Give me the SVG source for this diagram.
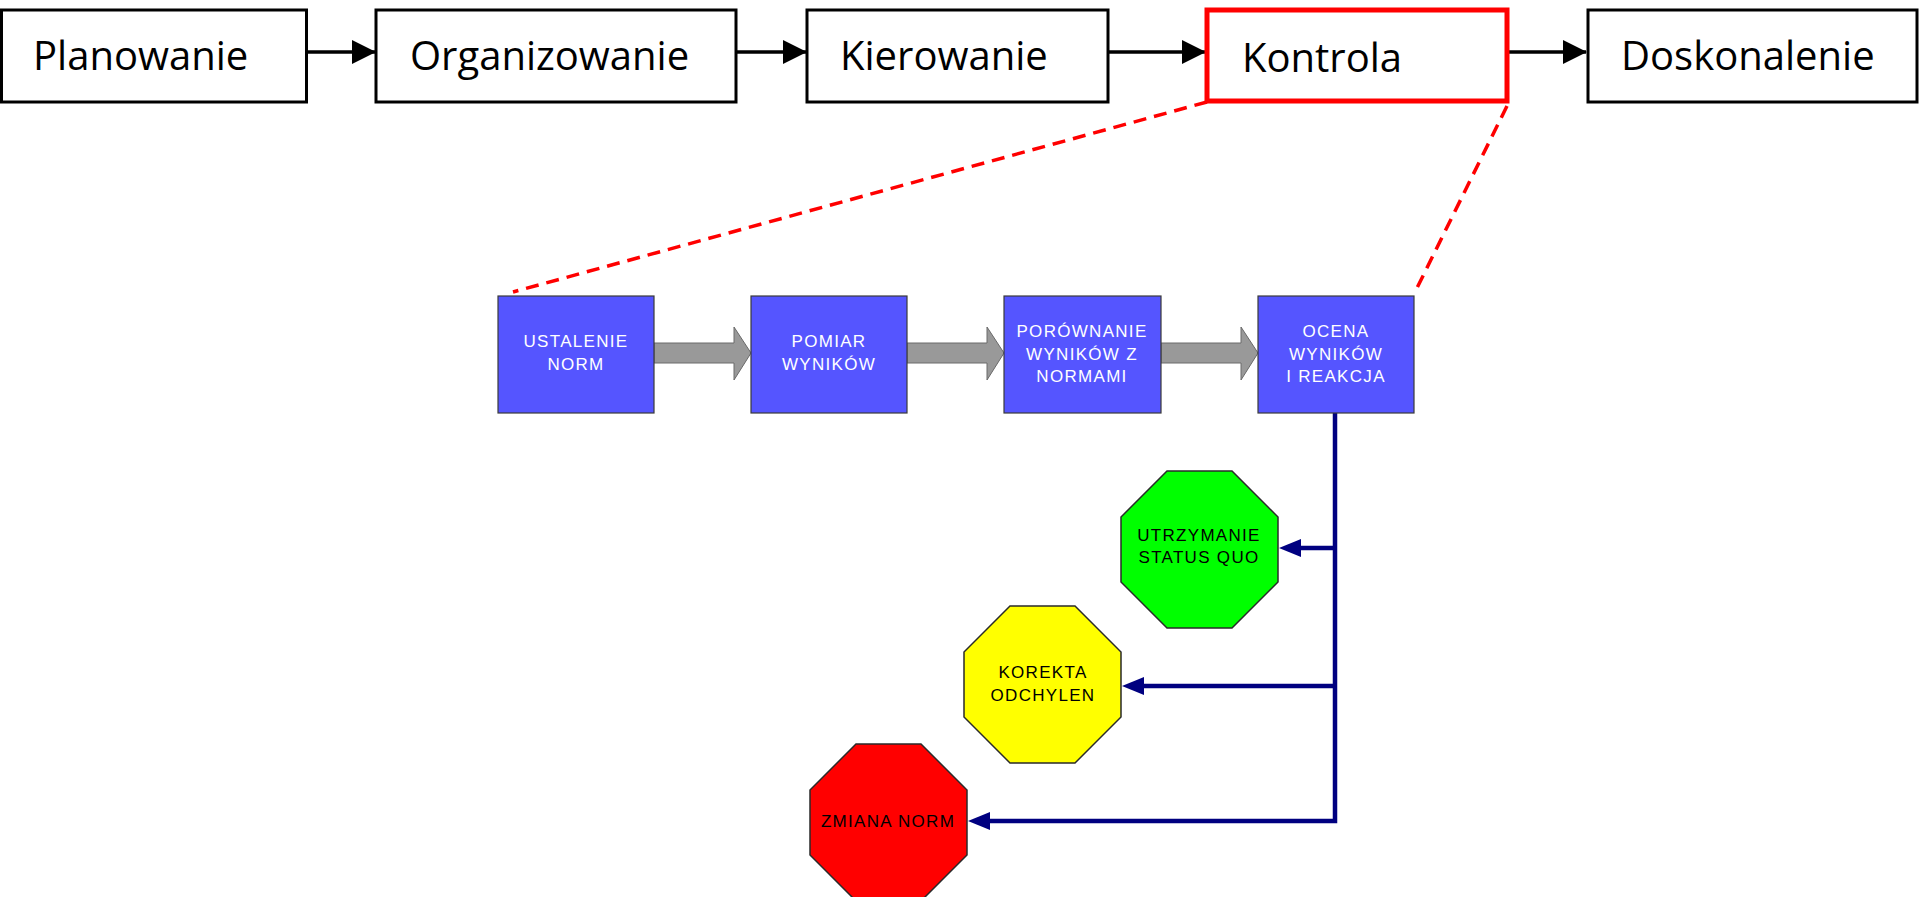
<svg xmlns="http://www.w3.org/2000/svg" width="1920" height="897" viewBox="0 0 1920 897">
  <style>
    .stage { fill: #ffffff; stroke: #000000; stroke-width: 3; }
    .stage-hi { fill: #ffffff; stroke: #ff0000; stroke-width: 5; }
    .stage-txt { font-family: "Open Sans", "Liberation Sans", sans-serif; font-size: 40px; fill: #000000; }
    .step { fill: #5555ff; stroke: #3a3a3a; stroke-width: 1.2; }
    .step-txt { font-family: "Liberation Sans", Arial, sans-serif; font-size: 17px; fill: #ffffff; text-anchor: middle; letter-spacing: 1.3px; }
    .oct { stroke: #2a2a2a; stroke-width: 1.5; }
    .oct-txt { font-family: "Liberation Sans", Arial, sans-serif; font-size: 17px; fill: #000000; text-anchor: middle; letter-spacing: 1.3px; }
    .flow { stroke: #000000; stroke-width: 3.3; fill: none; }
    .zoom-line { stroke: #ff0000; stroke-width: 3.5; stroke-dasharray: 13 8; fill: none; }
    .fat-arrow { fill: #999999; stroke: #6a6a6a; stroke-width: 1; }
    .branch { stroke: #000080; stroke-width: 4.5; fill: none; }
    .branch-head { fill: #000080; }
  </style>
  <defs>
    <marker id="arrowBlack" markerUnits="userSpaceOnUse" markerWidth="24" markerHeight="24" refX="23" refY="12" orient="auto">
      <path d="M0,0 L24,12 L0,24 Z" fill="#000000"/>
    </marker>
  </defs>

  <rect width="1920" height="897" fill="#ffffff"/>

  <!-- connectors -->
  <g id="connectors">
    <!-- top process flow -->
    <line class="flow" x1="307" y1="52" x2="375" y2="52" marker-end="url(#arrowBlack)"/>
    <line class="flow" x1="737" y1="52" x2="806" y2="52" marker-end="url(#arrowBlack)"/>
    <line class="flow" x1="1109" y1="52" x2="1205" y2="52" marker-end="url(#arrowBlack)"/>
    <line class="flow" x1="1509" y1="52" x2="1586" y2="52" marker-end="url(#arrowBlack)"/>

    <!-- zoom-out guides from Kontrola -->
    <line class="zoom-line" x1="1207" y1="102" x2="513" y2="292"/>
    <line class="zoom-line" x1="1507" y1="106" x2="1416" y2="290"/>

    <!-- block arrows between control steps -->
    <path class="fat-arrow" d="M654,343 L734,343 L734,327 L751,353 L734,380 L734,363 L654,363 Z"/>
    <path class="fat-arrow" d="M907,343 L987,343 L987,327 L1004,353 L987,380 L987,363 L907,363 Z"/>
    <path class="fat-arrow" d="M1161,343 L1241,343 L1241,327 L1258,353 L1241,380 L1241,363 L1161,363 Z"/>

    <!-- reaction branches -->
    <path class="branch" d="M1335,413 L1335,821 L987,821"/>
    <line class="branch" x1="1335" y1="548" x2="1298" y2="548"/>
    <line class="branch" x1="1335" y1="686" x2="1141" y2="686"/>
    <path class="branch-head" d="M1279,548 L1301,539 L1301,557 Z"/>
    <path class="branch-head" d="M1122,686 L1144,677 L1144,695 Z"/>
    <path class="branch-head" d="M968,821 L990,812 L990,830 Z"/>
  </g>

  <!-- management functions -->
  <g id="planowanie">
    <rect class="stage" x="1.5" y="10" width="305" height="92"/>
    <text class="stage-txt" x="33" y="70">Planowanie</text>
  </g>
  <g id="organizowanie">
    <rect class="stage" x="376" y="10" width="360" height="92"/>
    <text class="stage-txt" x="410" y="70">Organizowanie</text>
  </g>
  <g id="kierowanie">
    <rect class="stage" x="807" y="10" width="301" height="92"/>
    <text class="stage-txt" x="840" y="70">Kierowanie</text>
  </g>
  <g id="kontrola">
    <rect class="stage-hi" x="1207" y="10" width="300" height="91"/>
    <text class="stage-txt" x="1242" y="72">Kontrola</text>
  </g>
  <g id="doskonalenie">
    <rect class="stage" x="1588" y="10" width="329" height="92"/>
    <text class="stage-txt" x="1621" y="70">Doskonalenie</text>
  </g>

  <!-- control process steps -->
  <g id="ustalenie-norm">
    <rect class="step" x="498" y="296" width="156" height="117"/>
    <text class="step-txt" x="576" y="347">USTALENIE</text>
    <text class="step-txt" x="576" y="370">NORM</text>
  </g>
  <g id="pomiar-wynikow">
    <rect class="step" x="751" y="296" width="156" height="117"/>
    <text class="step-txt" x="829" y="347">POMIAR</text>
    <text class="step-txt" x="829" y="370">WYNIKÓW</text>
  </g>
  <g id="porownanie">
    <rect class="step" x="1004" y="296" width="157" height="117"/>
    <text class="step-txt" x="1082" y="337">PORÓWNANIE</text>
    <text class="step-txt" x="1082" y="360">WYNIKÓW Z</text>
    <text class="step-txt" x="1082" y="382">NORMAMI</text>
  </g>
  <g id="ocena">
    <rect class="step" x="1258" y="296" width="156" height="117"/>
    <text class="step-txt" x="1336" y="337">OCENA</text>
    <text class="step-txt" x="1336" y="360">WYNIKÓW</text>
    <text class="step-txt" x="1336" y="382">I REAKCJA</text>
  </g>

  <!-- possible reactions -->
  <g id="status-quo">
    <polygon class="oct" fill="#00ff00" points="1167,471 1232,471 1278,517 1278,582 1232,628 1167,628 1121,582 1121,517"/>
    <text class="oct-txt" x="1199" y="541">UTRZYMANIE</text>
    <text class="oct-txt" x="1199" y="563">STATUS QUO</text>
  </g>
  <g id="korekta">
    <polygon class="oct" fill="#ffff00" points="1010,606 1075,606 1121,652 1121,717 1075,763 1010,763 964,717 964,652"/>
    <text class="oct-txt" x="1043" y="678">KOREKTA</text>
    <text class="oct-txt" x="1043" y="701">ODCHYLEN</text>
  </g>
  <g id="zmiana-norm">
    <polygon class="oct" fill="#ff0000" points="856,744 921,744 967,790 967,855 921,901 856,901 810,855 810,790"/>
    <text class="oct-txt" x="888" y="827">ZMIANA NORM</text>
  </g>
</svg>
